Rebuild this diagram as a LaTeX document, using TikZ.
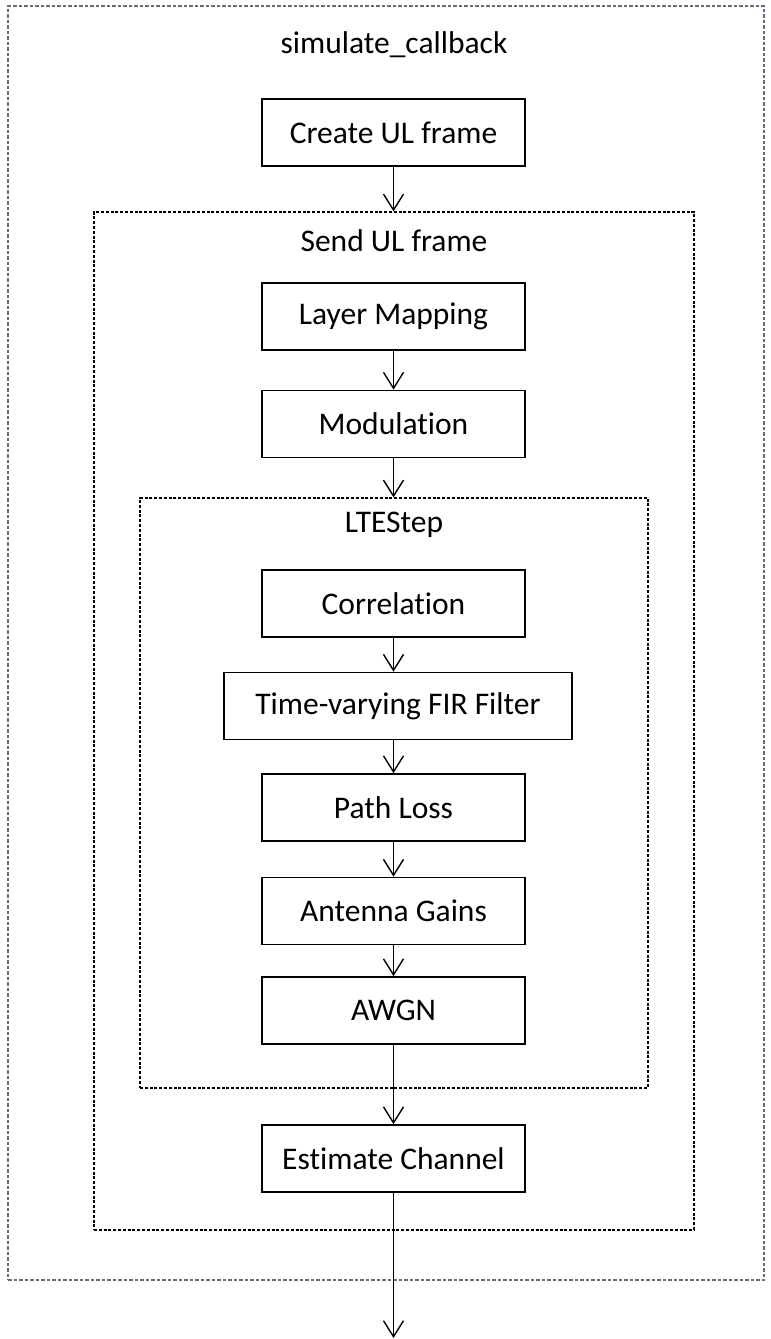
\documentclass[tikz,border=0pt]{standalone}
\usepackage{fontspec}
\setmainfont{Carlito}[Ligatures={NoCommon}]
\usetikzlibrary{arrows.meta}
\definecolor{outerc}{RGB}{95,110,128}
\begin{document}
\begin{tikzpicture}[x=1pt,y=-1pt,
  font=\fontsize{31.5}{36}\selectfont,
  stepbox/.style={draw=black,line width=1.7pt,minimum width=263pt,minimum height=67pt,inner sep=0pt,fill=white},
  framebox/.style={draw=black,line width=1.2pt,dash pattern=on 3pt off 1.8pt,inner sep=0pt},
  outerbox/.style={draw=outerc,line width=1.3pt,dash pattern=on 3.5pt off 2pt,inner sep=0pt},
  arr/.style={line width=1.4pt,-{Straight Barb[length=16pt,width=20pt,line width=1.4pt]}},
  lbl/.style={inner sep=0pt,anchor=center}
]
\useasboundingbox (0,0) rectangle (771,1339);
\fill[white] (0,0) rectangle (771,1339);

% frames
\node[outerbox,minimum width=756pt,minimum height=1274pt] (outerf) at (386,643) {};
\node[framebox,minimum width=600pt,minimum height=1018pt] (sendf) at (394,721) {};
\node[framebox,minimum width=508pt,minimum height=590pt] (ltef) at (394,793) {};

% labels
\node[lbl] (t1) at (394,45) {simulate\_callback};
\node[lbl] (t2) at (394,241) {Send UL frame};
\node[lbl] (t3) at (394,525) {LTEStep};

% steps
\node[stepbox] (create) at (393.5,132.5) {Create UL frame};
\node[stepbox] (lm) at (393.5,316.5) {Layer Mapping};
\node[stepbox] (mod) at (393.5,424) {Modulation};
\node[stepbox] (corr) at (393.5,603.5) {Correlation};
\node[stepbox,minimum width=348pt] (fir) at (398,706) {Time-varying FIR Filter};
\node[stepbox] (pl) at (393.5,807.5) {Path Loss};
\node[stepbox] (ag) at (393.5,911) {Antenna Gains};
\node[stepbox] (awgn) at (393.5,1010.5) {AWGN};
\node[stepbox] (est) at (393.5,1158.5) {Estimate Channel};
\coordinate (endp) at (393.5,1338);

% connectors
\draw[arr] (create.south) -- (create.south |- sendf.north);
\draw[arr] (lm) -- (mod);
\draw[arr] (mod.south) -- (mod.south |- ltef.north);
\draw[arr] (corr.south) -- (corr.south |- fir.north);
\draw[arr] (fir.south -| pl.north) -- (pl.north);
\draw[arr] (pl) -- (ag);
\draw[arr] (ag) -- (awgn);
\draw[arr] (awgn) -- (est);
\draw[arr] (est) -- (endp);
\end{tikzpicture}
\end{document}
